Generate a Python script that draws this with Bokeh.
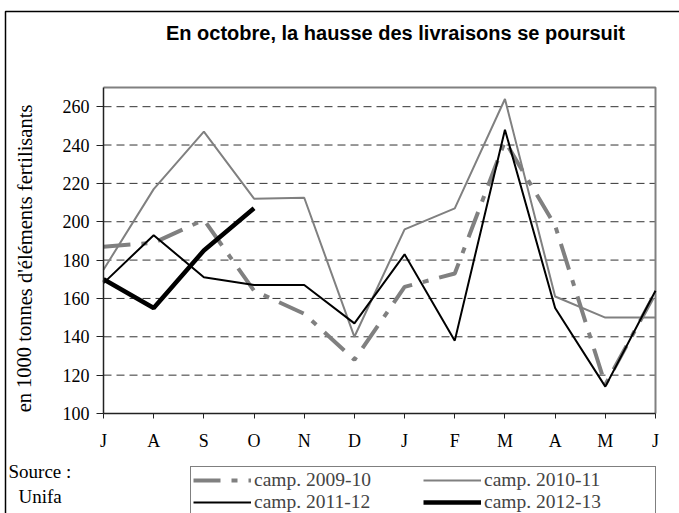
from bokeh.plotting import figure
from bokeh.models import Range1d, FixedTicker, Label, Legend, LegendItem
from bokeh.embed import file_html
from bokeh.resources import INLINE

# ---- data ----
months = ["J", "A", "S", "O", "N", "D", "J", "F", "M", "A", "M", "J"]
c0910 = [187, 189, 201, 164, 152, 128, 166, 173, 242, 198, 115, 163]
c1011 = [175, 217, 247, 212, 212.5, 140, 196, 207, 264, 161, 150, 150]
c1112 = [168, 193, 171, 167, 167, 147, 183, 138, 248, 155, 114, 164]
c1213 = [170, 155, 185, 207]
y_ticks = [100, 120, 140, 160, 180, 200, 220, 240, 260]

title_txt = "En octobre, la hausse des livraisons se poursuit"
ylabel_txt = "en 1000 tonnes d'éléments fertilisants"
source_txt = ["Source :", "Unifa"]

# ---- layout (canvas pixels) ----
W, H = 679, 513
PL, PR, PT, PB = 103, 655, 87, 413          # plot area edges
XA, XB, YA, YB = 0, 11, 100, 270            # plot area data extent
sx = (PR - PL) / (XB - XA)
sy = (PB - PT) / (YB - YA)
x_rng = Range1d(XA - PL / sx, XB + (W - PR) / sx)
y_rng = Range1d(YA - (H - PB) / sy, YB + PT / sy)

def dx(px):
    return XA + (px - PL) / sx

def dy(py):
    return YA + (PB - py) / sy

p = figure(width=W, height=H, output_backend="svg", toolbar_location=None,
           x_range=x_rng, y_range=y_rng, min_border=0,
           min_border_left=0, min_border_right=0, min_border_top=0, min_border_bottom=0)
p.background_fill_color = "white"
p.border_fill_color = "white"
p.outline_line_color = None
p.xgrid.grid_line_color = None
p.ygrid.grid_line_color = None

serif = "Liberation Serif"

# axes (drawn at the plot-area edges)
p.xaxis.fixed_location = YA
p.xaxis.bounds = (XA, XB)
p.xaxis.ticker = FixedTicker(ticks=list(range(len(months))))
p.xaxis.major_label_overrides = {i: m for i, m in enumerate(months)}
p.xaxis.major_label_text_font = serif
p.xaxis.major_label_text_font_size = "18px"
p.xaxis.major_label_text_color = "black"
p.xaxis.major_label_standoff = 12
p.xaxis.major_tick_out = 5
p.xaxis.major_tick_in = 0
p.xaxis.minor_tick_line_color = None
p.xaxis.axis_line_color = "#222222"
p.xaxis.axis_line_width = 1.5
p.xaxis.major_tick_line_color = "#222222"

p.yaxis.fixed_location = XA
p.yaxis.bounds = (YA, YB)
p.yaxis.ticker = FixedTicker(ticks=y_ticks)
p.yaxis.major_label_text_font = serif
p.yaxis.major_label_text_font_size = "18px"
p.yaxis.major_label_text_color = "black"
p.yaxis.major_label_standoff = 7
p.yaxis.major_tick_out = 7
p.yaxis.major_tick_in = 0
p.yaxis.minor_tick_line_color = None
p.yaxis.axis_line_color = "#222222"
p.yaxis.axis_line_width = 1.5
p.yaxis.major_tick_line_color = "#222222"

# outer chart border (left and top)
p.line([dx(5), dx(5), dx(W + 5)], [dy(H + 5), dy(11), dy(11)],
       line_color="black", line_width=1.5)

# horizontal dashed gridlines
g_y = [t for t in y_ticks if t > YA]
p.segment(x0=[XA] * len(g_y), y0=g_y, x1=[XB] * len(g_y), y1=g_y,
          line_color="#333333", line_dash="8 5", line_width=1)

# plot-area border (top and right)
p.line([XA, XB, XB], [YB, YB, YA], line_color="#808080", line_width=2)

x_all = list(range(len(months)))
r1 = p.line(x_all, c0910, line_color="#808080", line_width=4, line_dash="27 11 6 11")
r2 = p.line(x_all, c1011, line_color="#808080", line_width=2)
r3 = p.line(x_all, c1112, line_color="black", line_width=2)
r4 = p.line(x_all[:len(c1213)], c1213, line_color="black", line_width=4.5)

# title
p.add_layout(Label(x=dx(395), y=dy(32), text=title_txt, text_align="center",
                   text_baseline="middle", text_font="Liberation Sans",
                   text_font_style="bold", text_font_size="20px", text_color="black"))
# y axis label
p.add_layout(Label(x=dx(24), y=dy(258), text=ylabel_txt, angle=1.5707963,
                   text_align="center", text_baseline="middle", text_font=serif,
                   text_font_size="20.5px", text_color="black"))
# source
p.add_layout(Label(x=dx(8), y=dy(471), text=source_txt[0], text_align="left",
                   text_baseline="middle", text_font=serif, text_font_size="19px",
                   text_color="black"))
p.add_layout(Label(x=dx(18), y=dy(496), text=source_txt[1], text_align="left",
                   text_baseline="middle", text_font=serif, text_font_size="19px",
                   text_color="black"))

legend = Legend(items=[
    LegendItem(label="camp. 2009-10", renderers=[r1]),
    LegendItem(label="camp. 2010-11", renderers=[r2]),
    LegendItem(label="camp. 2011-12", renderers=[r3]),
    LegendItem(label="camp. 2012-13", renderers=[r4]),
], location=(190, -3), orientation="horizontal", nrows=2,
   label_text_font=serif, label_text_font_size="19.5px",
   label_standoff=3, glyph_width=58, glyph_height=16, label_height=16,
   label_width=169, spacing=0, padding=2, margin=0,
   border_line_color="black", border_line_width=1,
   background_fill_color="white", background_fill_alpha=1)
p.add_layout(legend, "center")

open("out.html", "w").write(file_html(p, INLINE))
